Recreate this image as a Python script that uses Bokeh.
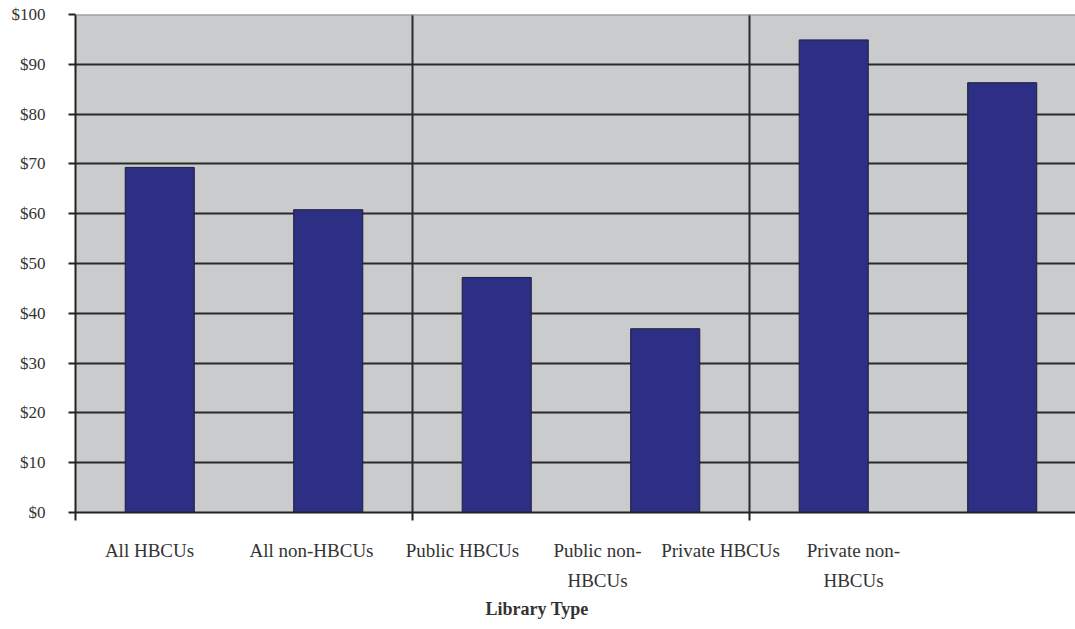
from bokeh.plotting import figure
from bokeh.models import Range1d, LinearAxis, FixedTicker, PrintfTickFormatter, Span, Title
from bokeh.embed import file_html
from bokeh.resources import INLINE

# ---- data ----
categories = ["All HBCUs", "All non-HBCUs", "Public HBCUs", "Public non-\nHBCUs",
              "Private HBCUs", "Private non-\nHBCUs"]
values = [69.3, 60.8, 47.2, 36.9, 94.9, 86.3]
y_ticks = [0, 10, 20, 30, 40, 50, 60, 70, 80, 90, 100]
axis_title = "Library Type"

# ---- layout / style ----
label_centres_px = [149, 311, 462, 597, 720, 853]   # where the category labels sit (screen px)
FONT = "Liberation Serif"
TEXT = "#333333"

xs = [i + 0.5 for i in range(len(categories))]

p = figure(width=1075, height=623, output_backend="svg", toolbar_location=None,
           x_range=Range1d(0, 5.935), y_range=Range1d(0, 100),
           min_border_left=75, min_border_top=14, min_border_right=0, min_border_bottom=111)
p.background_fill_color = "#c9cbcd"
p.border_fill_color = "white"
p.outline_line_color = None

p.vbar(x=xs, top=values, width=0.41, fill_color="#2d2f85",
       line_color="#1f1f3a", line_width=1)

# y axis
p.yaxis.ticker = FixedTicker(ticks=y_ticks)
p.yaxis.formatter = PrintfTickFormatter(format="$%d")
p.yaxis.axis_line_color = "#222222"
p.yaxis.axis_line_width = 2
p.yaxis.major_tick_line_color = "#222222"
p.yaxis.major_tick_line_width = 2
p.yaxis.major_tick_in = 0
p.yaxis.major_tick_out = 7
p.yaxis.minor_tick_line_color = None
p.yaxis.major_label_standoff = 23
p.yaxis.major_label_text_font = FONT
p.yaxis.major_label_text_font_size = "17px"
p.yaxis.major_label_text_color = TEXT

# x axis: only the tick marks every two categories
p.xaxis.ticker = FixedTicker(ticks=[0, 2, 4])
p.xaxis.major_label_overrides = {0: "", 2: "", 4: ""}
p.xaxis.major_label_text_font_size = "1px"
p.xaxis.major_label_standoff = 0
p.xaxis.axis_line_color = "#222222"
p.xaxis.axis_line_width = 2
p.xaxis.major_tick_line_color = "#222222"
p.xaxis.major_tick_line_width = 2
p.xaxis.major_tick_in = 0
p.xaxis.major_tick_out = 8
p.xaxis.minor_tick_line_color = None

# grids
p.ygrid.ticker = FixedTicker(ticks=y_ticks[1:-1])
p.ygrid.grid_line_color = "#2a2a2a"
p.ygrid.grid_line_width = 2
p.xgrid.ticker = FixedTicker(ticks=[2, 4])
p.xgrid.grid_line_color = "#2a2a2a"
p.xgrid.grid_line_width = 2

p.add_layout(Span(location=y_ticks[-1], dimension="width", line_color="#8c8c8c", line_width=2))

# category labels
p.extra_x_ranges = {"lab": Range1d(75, 1075)}
lab_axis = LinearAxis(x_range_name="lab", ticker=FixedTicker(ticks=label_centres_px),
                      major_label_overrides={x: c for x, c in zip(label_centres_px, categories)})
lab_axis.axis_line_color = None
lab_axis.major_tick_line_color = None
lab_axis.minor_tick_line_color = None
lab_axis.major_tick_in = 0
lab_axis.major_tick_out = 0
lab_axis.major_label_standoff = 19
lab_axis.major_label_text_font = FONT
lab_axis.major_label_text_font_size = "19px"
lab_axis.major_label_text_color = TEXT
lab_axis.major_label_text_line_height = 1.45
p.add_layout(lab_axis, "below")

t = Title(text=axis_title, align="left", offset=410, text_font=FONT,
          text_font_size="18px", text_font_style="bold", text_color=TEXT, standoff=6)
p.add_layout(t, "below")

open("out.html", "w").write(file_html(p, INLINE))
